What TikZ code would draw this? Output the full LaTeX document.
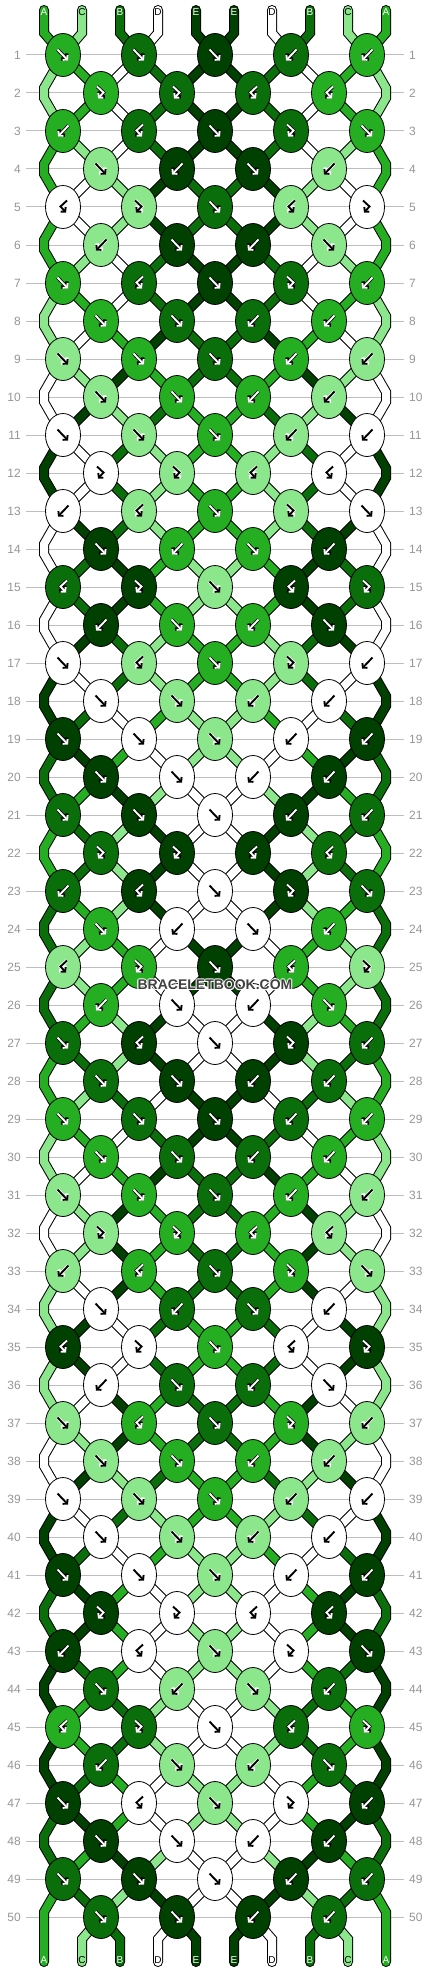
\documentclass[tikz,border=0pt]{standalone}
\usepackage{fontspec}
\setmainfont{Liberation Sans}
\usetikzlibrary{shapes.geometric,arrows.meta}
\definecolor{cM}{RGB}{38,174,34}
\definecolor{cL}{RGB}{140,230,140}
\definecolor{cD}{RGB}{10,110,10}
\definecolor{cX}{RGB}{0,64,0}
\definecolor{cW}{RGB}{255,255,255}
\definecolor{gridc}{RGB}{190,190,190}
\definecolor{numc}{RGB}{150,150,150}
\definecolor{wmc}{RGB}{64,64,64}
\pgfdeclarelayer{grid}
\pgfdeclarelayer{strings}
\pgfsetlayers{grid,strings,main}
% string data: id, colour, arrow colour, outline colour, letter
\def\defstr#1#2#3#4#5{%
  \expandafter\def\csname col#1\endcsname{#2}%
  \expandafter\def\csname ar#1\endcsname{#3}%
  \expandafter\def\csname ol#1\endcsname{#4}%
  \expandafter\def\csname lb#1\endcsname{#5}}
\defstr{0}{cM}{white}{black}{A}
\defstr{1}{cL}{black}{white}{C}
\defstr{2}{cD}{white}{black}{B}
\defstr{3}{cW}{black}{white}{D}
\defstr{4}{cX}{white}{black}{E}
\defstr{5}{cX}{white}{black}{E}
\defstr{6}{cW}{black}{white}{D}
\defstr{7}{cD}{white}{black}{B}
\defstr{8}{cL}{black}{white}{C}
\defstr{9}{cM}{white}{black}{A}
% knot types per row (period 10)
\expandafter\def\csname ty1\endcsname{F,F,F,B,B}
\expandafter\def\csname ty2\endcsname{f,f,b,b}
\expandafter\def\csname ty3\endcsname{B,b,F,f,F}
\expandafter\def\csname ty4\endcsname{F,B,F,B}
\expandafter\def\csname ty5\endcsname{b,f,F,b,f}
\expandafter\def\csname ty6\endcsname{B,F,B,F}
\expandafter\def\csname ty7\endcsname{F,b,F,f,B}
\expandafter\def\csname ty8\endcsname{F,F,B,B}
\expandafter\def\csname ty9\endcsname{F,F,F,B,B}
\expandafter\def\csname ty10\endcsname{F,F,B,B}
% knot colour from left string? strings swap?
\expandafter\def\csname uLF\endcsname{1}
\expandafter\def\csname uLf\endcsname{1}
\expandafter\def\csname uLB\endcsname{0}
\expandafter\def\csname uLb\endcsname{0}
\expandafter\def\csname swF\endcsname{1}
\expandafter\def\csname swB\endcsname{1}
\expandafter\def\csname swf\endcsname{0}
\expandafter\def\csname swb\endcsname{0}
% glyphs
\expandafter\def\csname glF\endcsname{(-5.5,-5.5) -- (5,5.5)}
\expandafter\def\csname glB\endcsname{(5.5,-5.5) -- (-5,5.5)}
\expandafter\def\csname glf\endcsname{(-4,-6.5) -- (2.5,-0.5) -- (-3,5.5)}
\expandafter\def\csname glb\endcsname{(4,-6.5) -- (-2.5,-0.5) -- (3,5.5)}
\begin{document}
\begin{tikzpicture}[x=1pt,y=-1pt,
  knot/.style={ellipse, draw=black, line width=0.8pt, minimum width=35pt, minimum height=43pt, inner sep=0pt},
  strB/.style={draw=black, line width=10pt, line join=miter, line cap=round},
  strF/.style={line width=8pt, line join=miter, line cap=round},
  glo/.style={line width=3.4pt, line join=miter, -{Straight Barb[length=3.6pt,width=8.2pt]}},
  gli/.style={line width=1.9pt, line join=miter, -{Straight Barb[length=3pt,width=7pt]}},
  rownum/.style={inner sep=0pt, text=numc, font=\fontsize{12}{12}\selectfont},
  lbl/.style={inner sep=0pt, font=\fontsize{10}{10}\selectfont},
  wm/.style={inner sep=0pt, font=\bfseries\fontsize{14}{14}\selectfont}]
\useasboundingbox (0,0) rectangle (430,1972);
\begin{pgfonlayer}{grid}
\fill[white] (0,0) rectangle (430,1972);
\foreach \r in {1,...,50}{
  \pgfmathtruncatemacro\y{55+38*(\r-1)}
  \draw[gridc, line width=1pt] (26,\y) -- (404,\y);
  \node[rownum, anchor=east] (NL\r) at (21,\y) {\r};
  \node[rownum, anchor=west] (NR\r) at (409,\y) {\r};
}
\end{pgfonlayer}
% initial strings
\foreach \i in {0,...,9}{
  \pgfmathtruncatemacro\x{44+38*\i}
  \coordinate (T\i-a) at (\x,10);
  \coordinate (T\i-b) at (\x,33);
  \coordinate (BT\i-a) at (\x,1939);
  \coordinate (BT\i-b) at (\x,1962);
  \edef\cmd{\noexpand\node[lbl, text=\csname ar\i\endcsname] (TL\i) at (\x,12) {\csname lb\i\endcsname};
    \noexpand\node[lbl, text=\csname ar\i\endcsname] (BL\i) at (\x,1960) {\csname lb\i\endcsname};}
  \cmd
  \expandafter\xdef\csname s\i\endcsname{\i}
  \expandafter\xdef\csname sp\i\endcsname{(T\i-a) -- (T\i-b)}
}
% knots
\foreach \r in {1,...,50}{
  \pgfmathtruncatemacro\m{mod(\r-1,10)+1}
  \pgfmathtruncatemacro\odd{mod(\r,2)}
  \pgfmathtruncatemacro\y{55+38*(\r-1)}
  \edef\tylist{\csname ty\m\endcsname}
  \foreach \tp [count=\kk from 0] in \tylist {
    \pgfmathtruncatemacro\p{2*\kk+1-\odd}
    \pgfmathtruncatemacro\q{\p+1}
    \pgfmathtruncatemacro\x{63+76*\kk+38*(1-\odd)}
    \edef\Lid{\csname s\p\endcsname}
    \edef\Rid{\csname s\q\endcsname}
    \ifnum\csname uL\tp\endcsname=1 \edef\Kid{\Lid}\else\edef\Kid{\Rid}\fi
    \edef\cmd{\noexpand\node[knot, fill=\csname col\Kid\endcsname] (K\r-\kk) at (\x,\y) {};
      \noexpand\draw[glo, draw=\csname ol\Kid\endcsname, shift={(\x,\y)}] \csname gl\tp\endcsname;
      \noexpand\draw[gli, draw=\csname ar\Kid\endcsname, shift={(\x,\y)}] \csname gl\tp\endcsname;}
    \cmd
    \expandafter\xdef\csname sp\Lid\endcsname{\csname sp\Lid\endcsname\space -- (K\r-\kk.center)}
    \expandafter\xdef\csname sp\Rid\endcsname{\csname sp\Rid\endcsname\space -- (K\r-\kk.center)}
    \ifnum\csname sw\tp\endcsname=1
      \expandafter\xdef\csname s\p\endcsname{\Rid}
      \expandafter\xdef\csname s\q\endcsname{\Lid}
    \fi
  }
  \ifnum\odd=0
    \pgfmathtruncatemacro\ya{\y-5}
    \pgfmathtruncatemacro\yb{\y+5}
    \coordinate (EL\r-a) at (44,\ya);
    \coordinate (EL\r-b) at (44,\yb);
    \coordinate (ER\r-a) at (386,\ya);
    \coordinate (ER\r-b) at (386,\yb);
    \edef\Lid{\csname s0\endcsname}
    \edef\Rid{\csname s9\endcsname}
    \expandafter\xdef\csname sp\Lid\endcsname{\csname sp\Lid\endcsname\space -- (EL\r-a) -- (EL\r-b)}
    \expandafter\xdef\csname sp\Rid\endcsname{\csname sp\Rid\endcsname\space -- (ER\r-a) -- (ER\r-b)}
  \fi
}
% bottom ends
\foreach \p in {0,...,9}{
  \edef\Sid{\csname s\p\endcsname}
  \expandafter\xdef\csname sp\Sid\endcsname{\csname sp\Sid\endcsname\space -- (BT\p-a) -- (BT\p-b)}
}
\begin{pgfonlayer}{strings}
\foreach \i in {0,...,9}{
  \edef\cmd{\noexpand\draw[strB] \csname sp\i\endcsname;
    \noexpand\draw[strF, draw=\csname col\i\endcsname] \csname sp\i\endcsname;}
  \cmd
}
\end{pgfonlayer}
% watermark
\foreach \dx/\dy in {-1/0,1/0,0/-1,0/1,-0.7/-0.7,0.7/0.7,-0.7/0.7,0.7/-0.7}
  \node[wm, text=white] at (215+\dx,985+\dy) {BRACELETBOOK.COM};
\node[wm, text=wmc] (WM) at (215,985) {BRACELETBOOK.COM};
\end{tikzpicture}
\end{document}
